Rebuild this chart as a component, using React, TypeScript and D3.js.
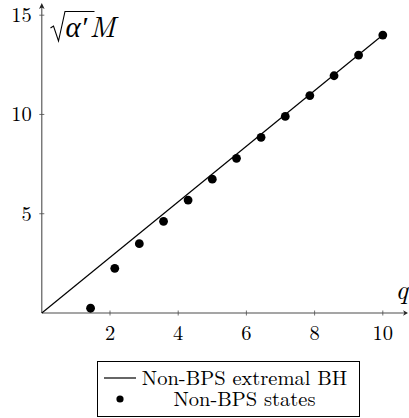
import React from 'react';
import * as d3 from 'd3';

// Non-BPS states (q, sqrt(alpha') M)
const stateQ: number[] = [1.43, 2.14, 2.86, 3.57, 4.29, 5.0, 5.71, 6.43, 7.14, 7.86, 8.57, 9.29, 10.0];
const stateM: number[] = [0.24, 2.25, 3.49, 4.62, 5.69, 6.74, 7.79, 8.85, 9.9, 10.95, 11.95, 12.99, 14.0];

// extremal black hole line endpoints
const bhQ: number[] = [0, 10];
const bhM: number[] = [0, 14];

const xTicks: number[] = [2, 4, 6, 8, 10];
const yTicks: number[] = [5, 10, 15];
const legendLabels: string[] = ['Non-BPS extremal BH', 'Non-BPS states'];

const W = 409;
const H = 418;
const FONT = "'Latin Modern Roman'";

const x = d3.scaleLinear().domain([0, 10]).range([41.8, 382.8]);
const y = d3.scaleLinear().domain([0, 15]).range([313, 15.2]);
const axisColor = '#4d4d4d';

const Chart: React.FC = () => {
  const x0 = x(0);
  const y0 = y(0);
  const line = d3.line<number>().x(i => x(bhQ[i])).y(i => y(bhM[i]));
  const txt = { fontFamily: FONT } as React.CSSProperties;

  return (
    <svg width={W} height={H} style={{ position: 'absolute', left: 0, top: 0, background: '#fff' }}>
      {/* axes */}
      <line x1={x0} x2={406} y1={y0} y2={y0} stroke={axisColor} strokeWidth={1.1} />
      <line x1={x0} x2={x0} y1={y0} y2={6} stroke={axisColor} strokeWidth={1.1} />
      <path d={`M408,${y0} L403,${y0 - 2.8} L404.5,${y0} L403,${y0 + 2.8} Z`} fill="#222" />
      <path d={`M${x0},3 L${x0 - 2.8},9 L${x0},7.5 L${x0 + 2.8},9 Z`} fill="#222" />

      {xTicks.map(d => (
        <g key={'x' + d}>
          <line x1={x(d)} x2={x(d)} y1={y0 - 2.5} y2={y0 + 2.5} stroke={axisColor} strokeWidth={0.8} />
          <text x={x(d)} y={y0 + 27} textAnchor="middle" fontSize={20.5} style={txt}>{d}</text>
        </g>
      ))}
      {yTicks.map(d => (
        <g key={'y' + d}>
          <line x1={x0 - 2.5} x2={x0 + 2.5} y1={y(d)} y2={y(d)} stroke={axisColor} strokeWidth={0.8} />
          <text x={x0 - 10} y={y(d) + 6.8} textAnchor="end" fontSize={20.5} style={txt}>{d}</text>
        </g>
      ))}

      {/* axis labels */}
      <text x={395.5} y={298.5} fontSize={27} fontStyle="italic" style={txt}>q</text>
      <path d="M50.5,28 L53.5,26 L58.5,41 L65,11.5 L94.5,11.5" fill="none" stroke="#000" strokeWidth={1.1} />
      <text x={65.5} y={37} fontSize={29} fontStyle="italic" style={txt}>α′<tspan dx={2.5}>M</tspan></text>

      {/* extremal BH line */}
      <path d={line(d3.range(bhQ.length)) || ''} fill="none" stroke="#000" strokeWidth={1.2} />

      {/* states */}
      {stateQ.map((q, i) => (
        <circle key={i} cx={x(q)} cy={y(stateM[i])} r={4.4} fill="#000" />
      ))}

      {/* legend */}
      <rect x={97.5} y={361.5} width={262} height={55} fill="#fff" stroke="#000" strokeWidth={1} />
      <line x1={104} x2={136} y1={378} y2={378} stroke="#000" strokeWidth={1.2} />
      <circle cx={120} cy={399} r={3.6} fill="#000" />
      {legendLabels.map((l, i) => (
        <text key={l} x={244.5} y={385 + i * 21} textAnchor="middle" fontSize={20.5} style={txt}>{l}</text>
      ))}
    </svg>
  );
};

const App = () => {
  return <Chart />;
};

export default App;
